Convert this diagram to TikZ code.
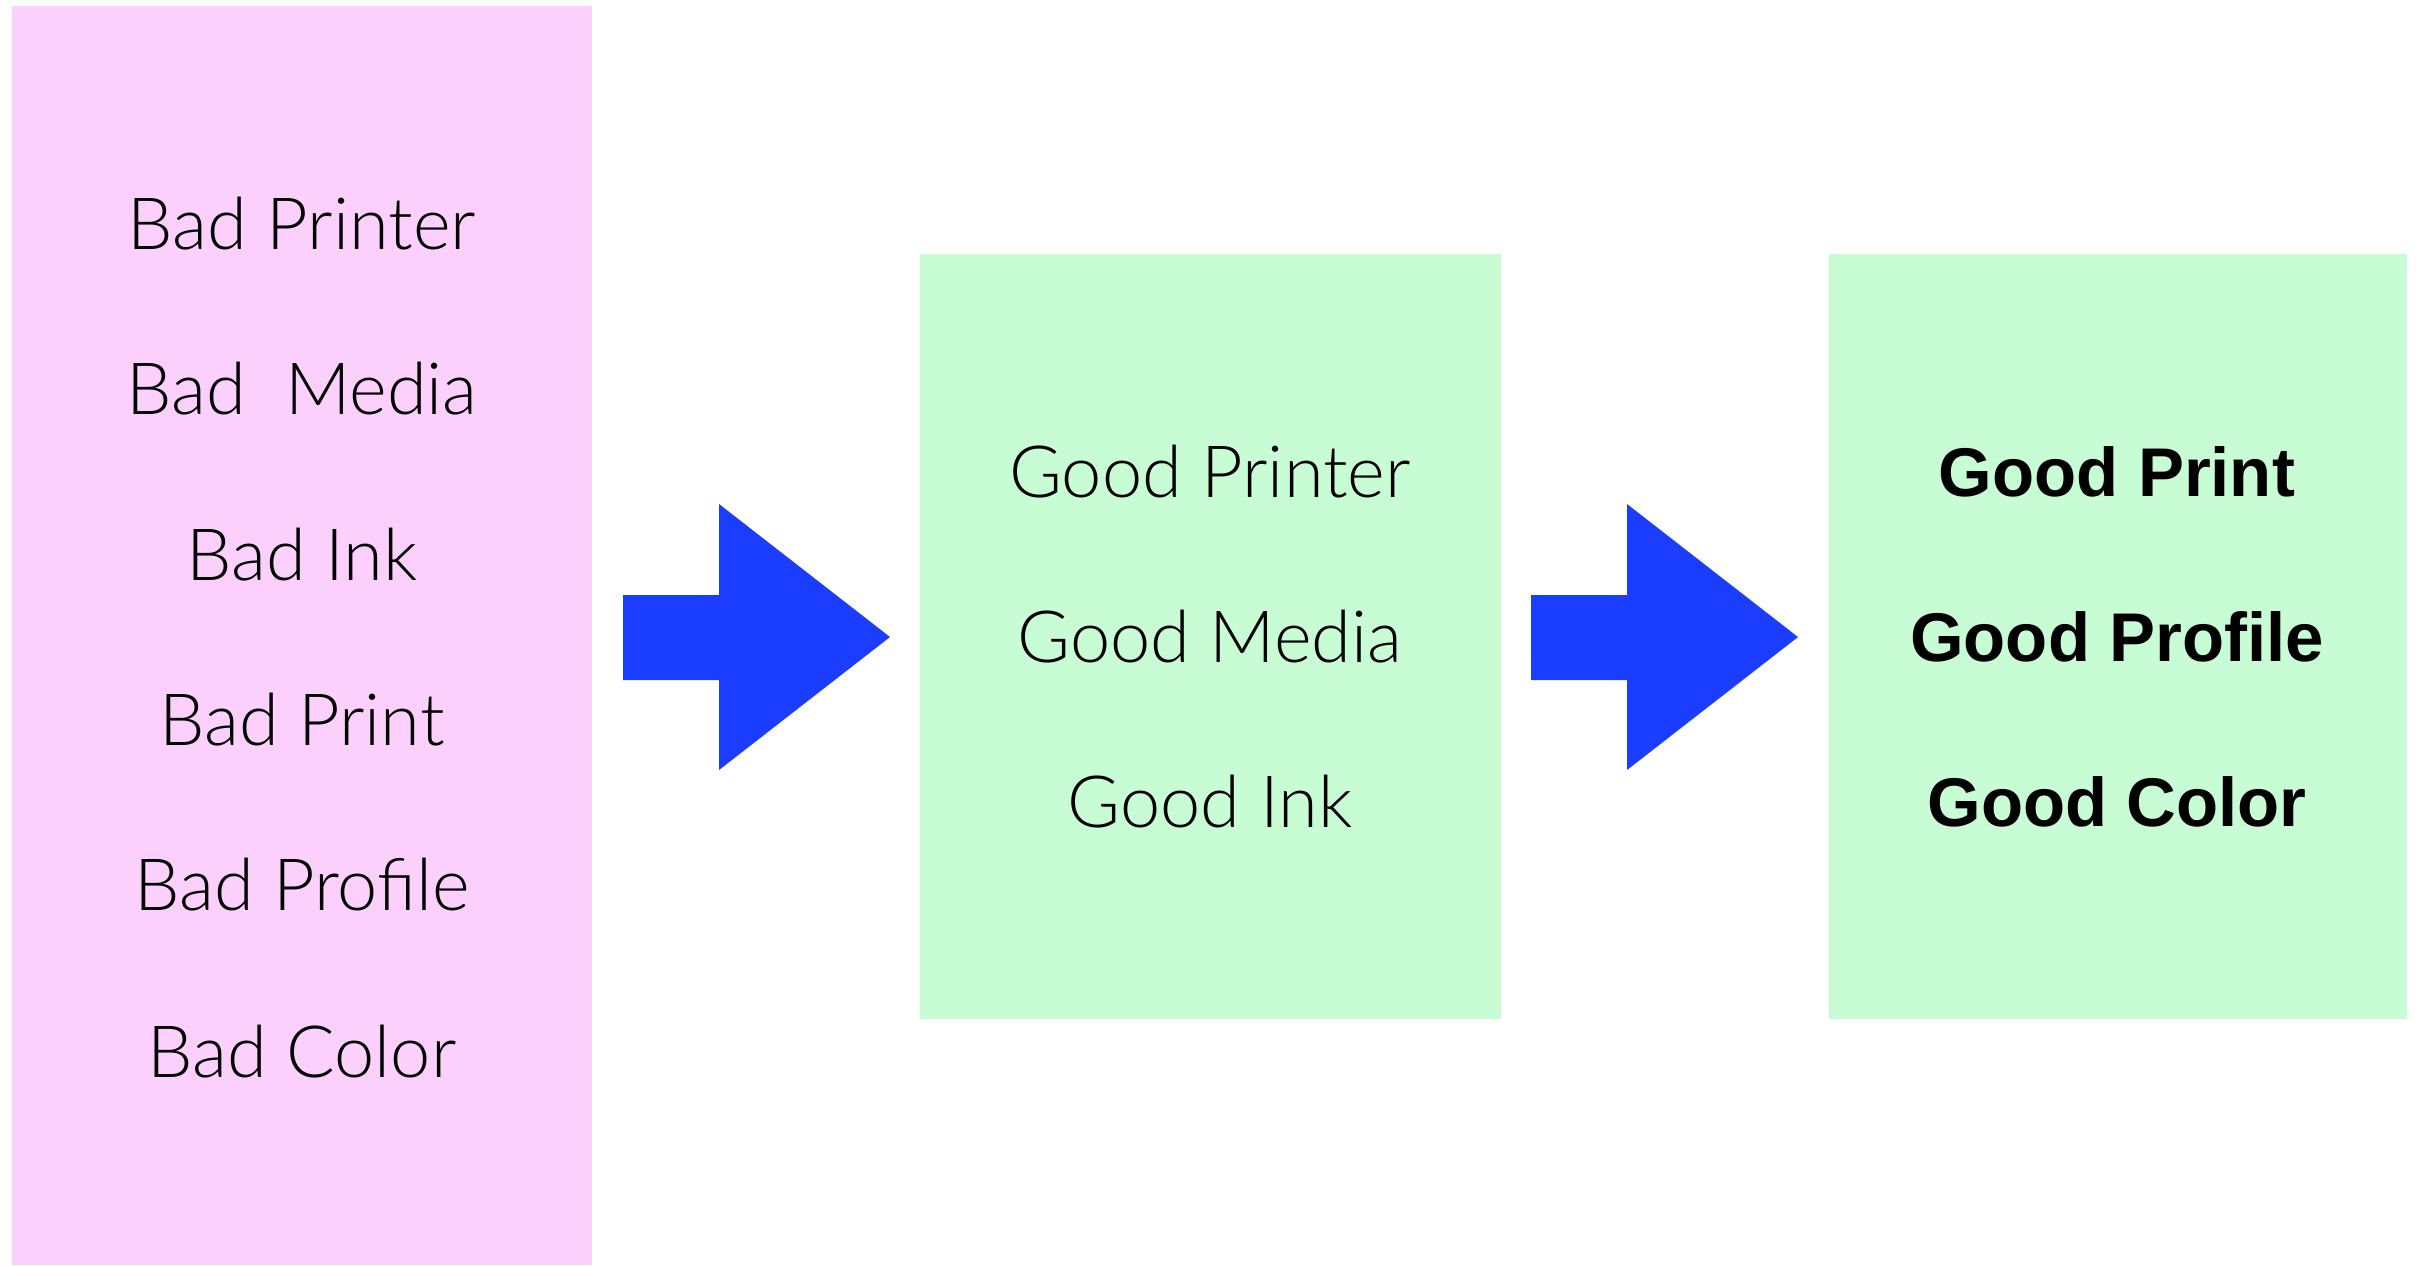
\documentclass[tikz,border=0pt]{standalone}
\usepackage{fontspec}
\setmainfont{Liberation Sans}
\newfontfamily\lightfont{Lato Light}
\usepackage{tikz}
\definecolor{badpink}{RGB}{252,208,252}
\definecolor{goodgreen}{RGB}{200,252,212}
\definecolor{arrowblue}{RGB}{27,61,255}
\tikzset{
  lighttext/.style={font=\lightfont\fontsize{20.5}{24}\selectfont},
  boldtext/.style={font=\bfseries\fontsize{19.6}{24}\selectfont},
  panel/.style={inner sep=0pt, minimum width=5.8cm}
}

\begin{document}
\begin{tikzpicture}[x=0.01cm, y=-0.01cm]
    \useasboundingbox (0,0) rectangle (2418,1265);

    \node[panel, fill=badpink, minimum height=12.59cm] (badbox) at (302,635.5) {};
    \node[lighttext] (bprinter) at (302,224) {Bad Printer};
    \node[lighttext] (bmedia) at (302,389) {Bad\ \ Media};
    \node[lighttext] (bink) at (302,555) {Bad Ink};
    \node[lighttext] (bprint) at (302,720) {Bad Print};
    \node[lighttext] (bprofile) at (302,885) {Bad Profile};
    \node[lighttext] (bcolor) at (302,1052) {Bad Color};

    \node[panel, fill=goodgreen, minimum height=7.65cm] (goodbox) at (1210.5,636.5) {};
    \node[lighttext] (gprinter) at (1210,472) {Good Printer};
    \node[lighttext] (gmedia) at (1210,637) {Good Media};
    \node[lighttext] (gink) at (1210,802) {Good Ink};

    \node[panel, fill=goodgreen, minimum width=5.78cm, minimum height=7.65cm] (resultbox) at (2118,636.5) {};
    \node[boldtext] (rprint) at (2117,472) {Good Print};
    \node[boldtext] (rprofile) at (2117,637) {Good Profile};
    \node[boldtext] (rcolor) at (2117,802) {Good Color};

    % block arrows
    \fill[arrowblue] (623,595) -- (719,595) -- (719,504) -- (890,637)
        -- (719,770) -- (719,680) -- (623,680) -- cycle;
    \fill[arrowblue] (1531,595) -- (1627,595) -- (1627,504) -- (1798,637)
        -- (1627,770) -- (1627,680) -- (1531,680) -- cycle;
\end{tikzpicture}
\end{document}
